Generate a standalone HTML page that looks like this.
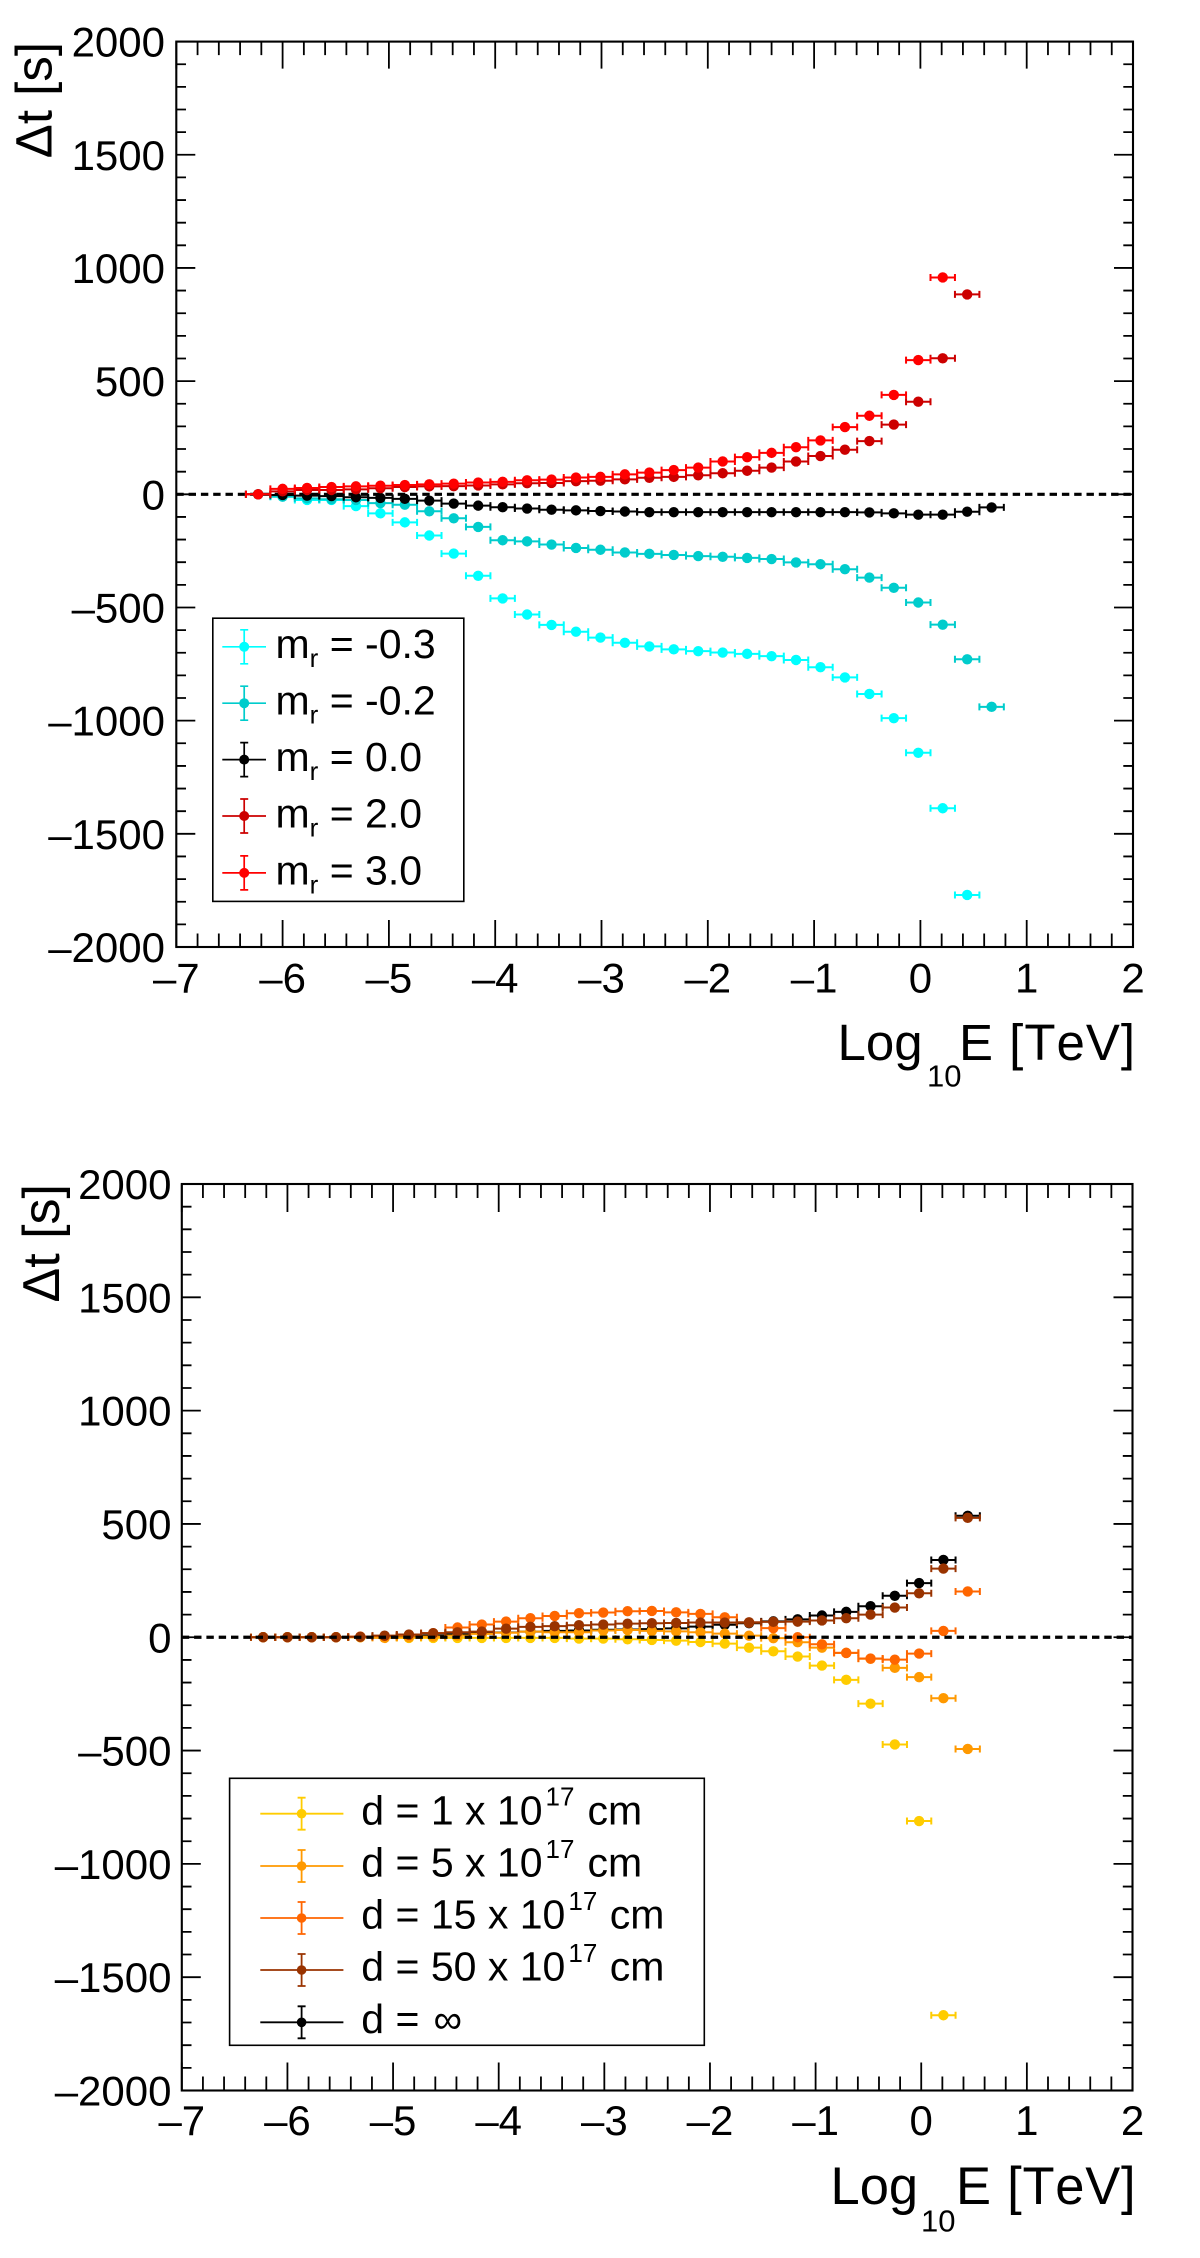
<!DOCTYPE html>
<html lang="en">
<head>
<meta charset="utf-8">
<title>Time delay versus energy</title>
<style>
html,body{margin:0;padding:0;background:#fff;}
svg{display:block;}
text{font-family:"Liberation Sans",sans-serif;fill:#000;font-kerning:none;}
</style>
</head>
<body>
<svg id="figure" xmlns="http://www.w3.org/2000/svg" width="1200" height="2258" viewBox="0 0 1200 2258">
  <rect width="1200" height="2258" fill="#fff"/>
  <g id="panel-top"></g>
  <g id="panel-bottom"></g>

  <text transform="translate(51.5,42) rotate(-90)" text-anchor="end" font-size="51">Δt [s]</text>
  <text y="1060" font-size="51"><tspan x="837.5">Log</tspan><tspan x="927" y="1086.5" font-size="31">10</tspan><tspan x="959" y="1060" letter-spacing="1">E [TeV]</tspan></text>

  <text transform="translate(59,1184) rotate(-90)" text-anchor="end" font-size="52">Δt [s]</text>
  <text y="2204" font-size="52.5"><tspan x="830.5">Log</tspan><tspan x="921" y="2231.5" font-size="31">10</tspan><tspan x="956" y="2204" letter-spacing="0.75">E [TeV]</tspan></text>

  <g>
    <rect x="212.8" y="618.2" width="251" height="283.2" fill="#fff" stroke="#000" stroke-width="1.6"/>
    <g stroke="#00ffff" stroke-width="1.7" fill="#00ffff">
      <path d="M222.3 646.8H266M244.2 629.8V663.8M240.2 629.8H248.2M240.2 663.8H248.2" fill="none"/><circle cx="244.2" cy="646.8" r="5" stroke="none"/>
    </g>
    <text x="275.5" y="658.2" font-size="41">m<tspan font-size="26" dy="9">r</tspan><tspan dy="-9"> = -0.3</tspan></text>
    <g stroke="#00cccc" stroke-width="1.7" fill="#00cccc">
      <path d="M222.3 703.2H266M244.2 686.2V720.2M240.2 686.2H248.2M240.2 720.2H248.2" fill="none"/><circle cx="244.2" cy="703.2" r="5" stroke="none"/>
    </g>
    <text x="275.5" y="714.6" font-size="41">m<tspan font-size="26" dy="9">r</tspan><tspan dy="-9"> = -0.2</tspan></text>
    <g stroke="#000" stroke-width="1.7" fill="#000">
      <path d="M222.3 759.6H266M244.2 742.6V776.6M240.2 742.6H248.2M240.2 776.6H248.2" fill="none"/><circle cx="244.2" cy="759.6" r="5" stroke="none"/>
    </g>
    <text x="275.5" y="771" font-size="41">m<tspan font-size="26" dy="9">r</tspan><tspan dy="-9"> = 0.0</tspan></text>
    <g stroke="#cc0000" stroke-width="1.7" fill="#cc0000">
      <path d="M222.3 816H266M244.2 799V833M240.2 799H248.2M240.2 833H248.2" fill="none"/><circle cx="244.2" cy="816" r="5" stroke="none"/>
    </g>
    <text x="275.5" y="827.4" font-size="41">m<tspan font-size="26" dy="9">r</tspan><tspan dy="-9"> = 2.0</tspan></text>
    <g stroke="#ff0000" stroke-width="1.7" fill="#ff0000">
      <path d="M222.3 872.9H266M244.2 855.9V889.9M240.2 855.9H248.2M240.2 889.9H248.2" fill="none"/><circle cx="244.2" cy="872.9" r="5" stroke="none"/>
    </g>
    <text x="275.5" y="884.3" font-size="41">m<tspan font-size="26" dy="9">r</tspan><tspan dy="-9"> = 3.0</tspan></text>
  </g>

  <g>
    <rect x="229.6" y="1778.3" width="474.7" height="267" fill="#fff" stroke="#000" stroke-width="1.6"/>
    <g stroke="#ffcc00" stroke-width="1.8" fill="#ffcc00">
      <path d="M260.3 1813.7H343.4M301.6 1797.7V1829.7M297.6 1797.7H305.6M297.6 1829.7H305.6" fill="none"/><circle cx="301.6" cy="1813.7" r="4.8" stroke="none"/>
    </g>
    <text y="1824.3" font-size="41"><tspan x="361.3">d = 1 x 10</tspan><tspan x="545.5" y="1805.7" font-size="26">17</tspan><tspan x="587.5" y="1824.3" font-size="41">cm</tspan></text>
    <g stroke="#ff9900" stroke-width="1.8" fill="#ff9900">
      <path d="M260.3 1866H343.4M301.6 1850V1882M297.6 1850H305.6M297.6 1882H305.6" fill="none"/><circle cx="301.6" cy="1866" r="4.8" stroke="none"/>
    </g>
    <text y="1876.6" font-size="41"><tspan x="361.3">d = 5 x 10</tspan><tspan x="545.5" y="1858" font-size="26">17</tspan><tspan x="587.5" y="1876.6" font-size="41">cm</tspan></text>
    <g stroke="#ff6600" stroke-width="1.8" fill="#ff6600">
      <path d="M260.3 1918H343.4M301.6 1902V1934M297.6 1902H305.6M297.6 1934H305.6" fill="none"/><circle cx="301.6" cy="1918" r="4.8" stroke="none"/>
    </g>
    <text y="1928.6" font-size="41"><tspan x="361.3">d = 15 x 10</tspan><tspan x="568.4" y="1910" font-size="26">17</tspan><tspan x="609.7" y="1928.6" font-size="41">cm</tspan></text>
    <g stroke="#993300" stroke-width="1.8" fill="#993300">
      <path d="M260.3 1970H343.4M301.6 1954V1986M297.6 1954H305.6M297.6 1986H305.6" fill="none"/><circle cx="301.6" cy="1970" r="4.8" stroke="none"/>
    </g>
    <text y="1980.6" font-size="41"><tspan x="361.3">d = 50 x 10</tspan><tspan x="568.4" y="1962" font-size="26">17</tspan><tspan x="609.7" y="1980.6" font-size="41">cm</tspan></text>
    <g stroke="#000" stroke-width="1.8" fill="#000">
      <path d="M260.3 2022.3H343.4M301.6 2006.3V2038.3M297.6 2006.3H305.6M297.6 2038.3H305.6" fill="none"/><circle cx="301.6" cy="2022.3" r="4.8" stroke="none"/>
    </g>
    <text y="2032.9" font-size="41"><tspan x="361.3">d = </tspan><tspan x="433.5" font-size="40">∞</tspan></text>
  </g>
</svg>

<script>
// ---- shared values ----
const logEnergy = [-6.23,-6.00,-5.77,-5.54,-5.31,-5.08,-4.85,-4.62,-4.39,-4.16,-3.93,-3.70,-3.47,-3.24,-3.01,-2.78,-2.55,-2.32,-2.09,-1.86,-1.63,-1.40,-1.17,-0.94,-0.71,-0.48,-0.25,-0.02,0.21,0.44,0.67];
const binHalfWidth = 0.115;
const xTickValues = [-7,-6,-5,-4,-3,-2,-1,0,1,2];
const xTickLabels = ["–7","–6","–5","–4","–3","–2","–1","0","1","2"];
const yTickValues = [2000,1500,1000,500,0,-500,-1000,-1500,-2000];
const yTickLabels = ["2000","1500","1000","500","0","–500","–1000","–1500","–2000"];

// ---- top panel series: delta t [s] per energy bin ----
const mrMinus03 = [0,-10,-25,-25,-52,-84,-124,-182,-262,-360,-460,-531,-577,-607,-633,-656,-672,-685,-693,-699,-705,-715,-732,-764,-809,-882,-989,-1142,-1387,-1770,null];
const mrMinus02 = [0,-10,-18,-22,-25,-39,-46,-75,-106,-144,-203,-208,-222,-237,-245,-257,-263,-268,-273,-276,-281,-286,-301,-309,-331,-368,-413,-478,-576,-729,-939];
const mrZero = [0,-3,-6,-8,-13,-16,-20,-28,-41,-50,-57,-63,-68,-71,-74,-76,-79,-79,-79,-79,-79,-79,-79,-79,-79,-80,-84,-90,-90,-77,-58];
const mrTwo = [0,13,19,19,22,27,32,35,36,39,44,49,50,58,60,66,73,77,84,93,104,118,145,169,197,235,308,409,601,883,null];
const mrThree = [0,24,28,32,35,38,41,44,47,52,55,62,65,74,77,88,96,107,118,145,164,183,208,238,297,347,439,593,958,null,null];

// ---- bottom panel series: delta t [s] per energy bin ----
const dInfinity = [0,0,0,0,1,3,5,8,13,17,21,25,28,30,33,34,36,39,47,55,62,70,79,96,112,137,183,239,341,536,null];
const dOne = [0,0,0,0,0,0,-3,-3,-3,-3,-3,-3,-3,-6,-6,-9,-12,-15,-21,-28,-46,-62,-85,-125,-188,-293,-473,-811,-1668,null,null];
const dFive = [0,0,0,0,0,-3,0,3,7,15,20,25,22,22,30,32,28,26,22,16,7,-4,-22,-46,-69,-95,-135,-176,-269,-493,null];
const dFifteen = [0,0,0,0,3,6,10,18,43,56,69,84,94,106,109,115,116,110,103,88,65,40,0,-31,-69,-94,-99,-72,28,202,null];
const dFifty = [0,0,0,0,2,7,12,18,22,25,38,46,49,53,56,60,62,63,65,65,66,68,69,74,84,100,131,194,303,527,null];

const NS = 'http://www.w3.org/2000/svg';

function svgEl(parent, tag, attrs) {
  const el = document.createElementNS(NS, tag);
  for (const k in attrs) el.setAttribute(k, attrs[k]);
  parent.appendChild(el);
  return el;
}

function makeScale(d0, d1, r0, r1) {
  return function (v) { return r0 + (v - d0) * (r1 - r0) / (d1 - d0); };
}

function drawSeries(g, xScale, yScale, values, color, seriesName) {
  const group = svgEl(g, 'g', {});
  
  
  values.forEach(function (v, i) {
    if (v === null) return;
    const cx = xScale(logEnergy[i]);
    const cy = yScale(v);
    const x0 = xScale(logEnergy[i] - binHalfWidth);
    const x1 = xScale(logEnergy[i] + binHalfWidth);
    const bar = svgEl(group, 'path', {
      d: 'M' + x0 + ' ' + cy + 'H' + x1 + 'M' + x0 + ' ' + (cy - 3.5) + 'V' + (cy + 3.5) + 'M' + x1 + ' ' + (cy - 3.5) + 'V' + (cy + 3.5),
      stroke: color, 'stroke-width': 2, fill: 'none'
    });
    
    
    const dot = svgEl(group, 'circle', { cx: cx, cy: cy, r: 5.2, fill: color });
    
    
  });
}

function drawDashedZero(g, xScale, yScale) {
  const line = svgEl(g, 'line', {
    x1: xScale(-7), x2: xScale(2), y1: yScale(0), y2: yScale(0),
    stroke: '#000', 'stroke-width': 3.2, 'stroke-dasharray': '7.4 4.9'
  });
  
  
}

function drawAxes(g, xScale, yScale, layout) {
  const left = xScale(-7), right = xScale(2), top = yScale(2000), bottom = yScale(-2000);
  const ticks = svgEl(g, 'g', { stroke: '#000', 'stroke-width': 1.8, fill: 'none' });
  
  
  let d = '';
  for (let k = 0; k <= 45; k++) {
    const v = -7 + k * 0.2;
    const len = k % 5 === 0 ? layout.xMajor : layout.xMinor;
    const x = xScale(v);
    d += 'M' + x + ' ' + bottom + 'V' + (bottom - len) + 'M' + x + ' ' + top + 'V' + (top + len);
  }
  for (let k = 0; k <= 40; k++) {
    const v = -2000 + k * 100;
    const len = k % 5 === 0 ? 19 : 9.7;
    const y = yScale(v);
    d += 'M' + left + ' ' + y + 'H' + (left + len) + 'M' + right + ' ' + y + 'H' + (right - len);
  }
  svgEl(ticks, 'path', { d: d });
  const frame = svgEl(g, 'rect', {
    x: left, y: top, width: right - left, height: bottom - top,
    fill: 'none', stroke: '#000', 'stroke-width': 2.1
  });
  
  

  xTickValues.forEach(function (v, i) {
    const t = svgEl(g, 'text', { x: xScale(v), y: layout.xLabelY, 'font-size': 42, 'text-anchor': 'middle' });
    
    
    t.textContent = xTickLabels[i];
  });
  yTickValues.forEach(function (v, i) {
    const t = svgEl(g, 'text', { x: layout.yLabelX, y: yScale(v) + 15, 'font-size': 42, 'text-anchor': 'end' });
    
    
    t.textContent = yTickLabels[i];
  });
}

// ---- top panel ----
const topG = document.getElementById('panel-top');
const xTop = makeScale(-7, 2, 176.3, 1133);
const yTop = makeScale(-2000, 2000, 947, 41.6);
drawDashedZero(topG, xTop, yTop);
drawSeries(topG, xTop, yTop, mrMinus03, '#00ffff', 'series-mr-minus-0-3');
drawSeries(topG, xTop, yTop, mrMinus02, '#00cccc', 'series-mr-minus-0-2');
drawSeries(topG, xTop, yTop, mrZero, '#000000', 'series-mr-0-0');
drawSeries(topG, xTop, yTop, mrTwo, '#cc0000', 'series-mr-2-0');
drawSeries(topG, xTop, yTop, mrThree, '#ff0000', 'series-mr-3-0');
drawAxes(topG, xTop, yTop, { xMajor: 27, xMinor: 13.5, xLabelY: 992.3, yLabelX: 165 });

// ---- bottom panel ----
const botG = document.getElementById('panel-bottom');
const xBot = makeScale(-7, 2, 181.8, 1132.5);
const yBot = makeScale(-2000, 2000, 2090.5, 1184);
drawSeries(botG, xBot, yBot, dInfinity, '#000000', 'series-d-infinity');
drawSeries(botG, xBot, yBot, dOne, '#ffcc00', 'series-d-1');
drawSeries(botG, xBot, yBot, dFive, '#ff9900', 'series-d-5');
drawSeries(botG, xBot, yBot, dFifteen, '#ff6600', 'series-d-15');
drawSeries(botG, xBot, yBot, dFifty, '#993300', 'series-d-50');
drawDashedZero(botG, xBot, yBot);
drawAxes(botG, xBot, yBot, { xMajor: 28, xMinor: 14, xLabelY: 2135, yLabelX: 171.5 });
</script>
</body>
</html>
